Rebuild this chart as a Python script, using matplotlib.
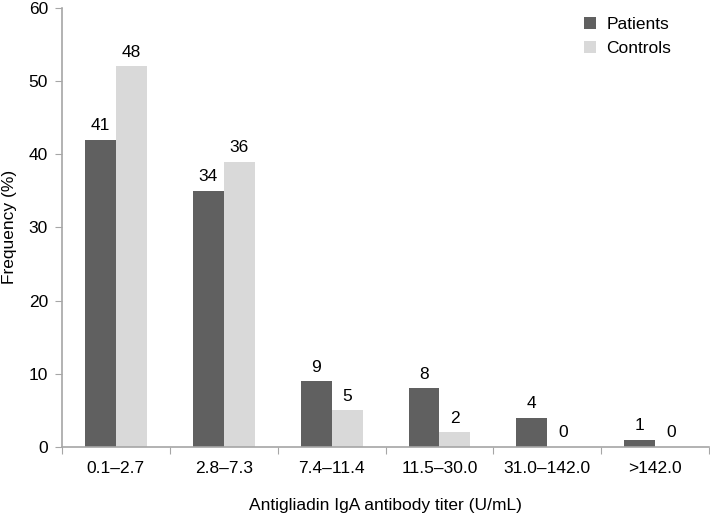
import numpy as np
import matplotlib.pyplot as plt

plt.rcParams['font.family'] = ['Liberation Sans', 'DejaVu Sans']

# Data
categories = ['0.1\u20132.7', '2.8\u20137.3', '7.4\u201311.4', '11.5\u201330.0',
              '31.0\u2013142.0', '>142.0']
patients = [42, 35, 9, 8, 4, 1]
controls = [52, 39, 5, 2, 0, 0]
patient_labels = ['41', '34', '9', '8', '4', '1']
control_labels = ['48', '36', '5', '2', '0', '0']

dark = '#606060'
light = '#d9d9d9'
axis_col = '#a6a6a6'
fs = 12.5

fig = plt.figure(figsize=(7.10, 5.18), dpi=100)
ax = fig.add_axes([0.087, 0.137, 0.912, 0.848])

x = np.arange(len(categories))
w = 0.287
b1 = ax.bar(x - w / 2, patients, w, color=dark, label='Patients')
b2 = ax.bar(x + w / 2, controls, w, color=light, label='Controls')

for bars, labels in ((b1, patient_labels), (b2, control_labels)):
    for rect, lab in zip(bars, labels):
        ax.text(rect.get_x() + rect.get_width() / 2, rect.get_height() + 0.9,
                lab, ha='center', va='bottom', fontsize=fs)

ax.set_xlim(-0.5, len(categories) - 0.5)
ax.set_ylim(0, 60)
ax.set_yticks(range(0, 61, 10))
ax.set_xticks(np.arange(-0.5, len(categories), 1.0))
ax.set_xticklabels([])
ax.set_xticks(x, minor=True)
ax.set_xticklabels(categories, minor=True)
ax.tick_params(axis='x', which='minor', length=0, pad=10, labelsize=fs)
ax.tick_params(axis='x', which='major', length=5, color=axis_col)
ax.tick_params(axis='y', length=5, color=axis_col, labelsize=fs, pad=5)

for s in ('top', 'right'):
    ax.spines[s].set_visible(False)
for s in ('left', 'bottom'):
    ax.spines[s].set_color(axis_col)
    ax.spines[s].set_linewidth(1.2)

ax.set_ylabel('Frequency (%)', fontsize=fs, labelpad=8)
ax.set_xlabel('Antigliadin IgA antibody titer (U/mL)', fontsize=fs, labelpad=16)

ax.legend(loc='upper right', bbox_to_anchor=(0.965, 1.015), frameon=False,
          fontsize=fs, handlelength=0.7, handleheight=0.7, labelspacing=0.5,
          handletextpad=0.6)

fig.savefig('out.png', dpi=100)
